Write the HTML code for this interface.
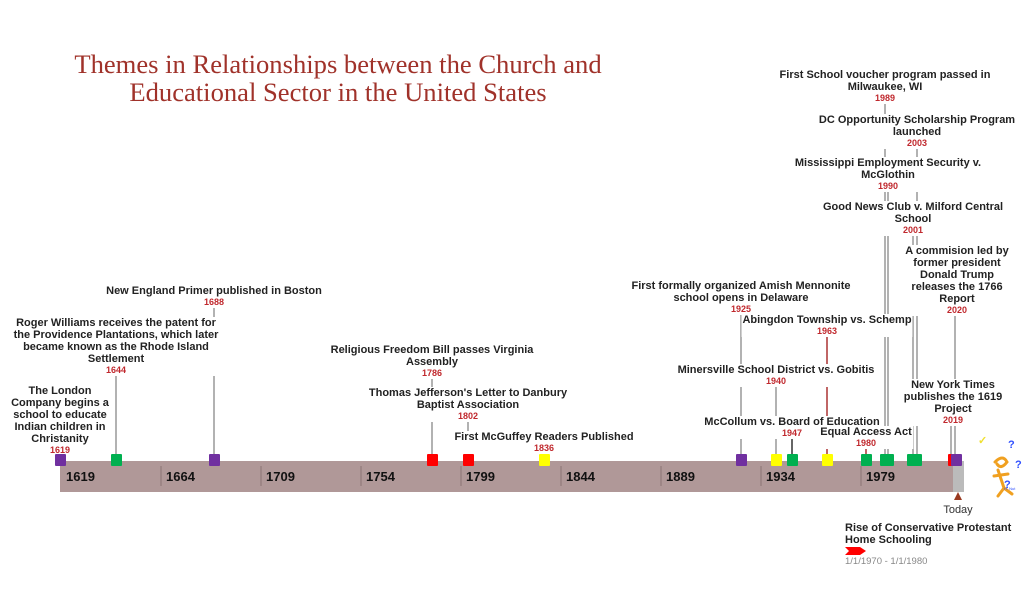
<!DOCTYPE html>
<html><head><meta charset="utf-8"><style>
body{margin:0;width:1024px;height:604px;background:#fff;position:relative;overflow:hidden;font-family:"Liberation Sans",Arial,sans-serif}
svg{position:absolute;left:0;top:0}
.l{position:absolute;transform:translateX(-50%);text-align:center;white-space:nowrap;font-weight:bold;font-size:11px;line-height:12px;color:#222;background:#fff;padding:0 1px;margin-top:3px}
.l b{display:block;color:#c0282d;font-size:9px;line-height:11px}
.t{position:absolute;font-weight:bold;font-size:13px;color:#111;top:469px}
</style></head><body>
<svg width="1024" height="604">
<g stroke="#999" stroke-width="1.5">
<line x1="116" y1="376" x2="116" y2="456"/>
<line x1="214" y1="307" x2="214" y2="456"/>
<line x1="432" y1="378" x2="432" y2="456"/>
<line x1="468" y1="421" x2="468" y2="456"/>
<line x1="741" y1="314" x2="741" y2="456"/>
<line x1="776" y1="386" x2="776" y2="456"/>
<line x1="792" y1="438" x2="792" y2="456" stroke="#333"/>
<line x1="827" y1="336" x2="827" y2="456" stroke="#a33"/>
<line x1="866" y1="447" x2="866" y2="456" stroke="#a33"/>
<line x1="885" y1="104" x2="885" y2="456"/>
<line x1="888" y1="191" x2="888" y2="456"/>
<line x1="913" y1="235" x2="913" y2="456"/>
<line x1="917" y1="148" x2="917" y2="456"/>
<line x1="951" y1="425" x2="951" y2="456"/>
<line x1="955" y1="314" x2="955" y2="456"/>
</g>
<rect x="60" y="461" width="904" height="31" fill="#b09898"/>
<rect x="953" y="461" width="11" height="31" fill="#bbb"/>
<g stroke="#8a7474" stroke-width="1">
<line x1="161" y1="466" x2="161" y2="486"/><line x1="261" y1="466" x2="261" y2="486"/>
<line x1="361" y1="466" x2="361" y2="486"/><line x1="461" y1="466" x2="461" y2="486"/>
<line x1="561" y1="466" x2="561" y2="486"/><line x1="661" y1="466" x2="661" y2="486"/>
<line x1="761" y1="466" x2="761" y2="486"/><line x1="861" y1="466" x2="861" y2="486"/>
</g>
<polygon points="954,500 958,492 962,500" fill="#9a3a20"/>
<polygon points="845,547 860,547 866,551 860,555 845,555 849,551" fill="#ff0000"/>
<g stroke="#f0a020" stroke-width="3" fill="none" stroke-linecap="round">
<path d="M995,462 q8,-8 12,0 q-6,8 -10,2 M998,470 l6,18 M1004,488 l-6,8 M1004,488 l8,6 M994,476 l14,-2"/>
</g>
<text x="1008" y="448" fill="#3050ff" font-size="11" font-weight="bold">?</text>
<text x="1015" y="468" fill="#3050ff" font-size="11" font-weight="bold">?</text>
<text x="1004" y="488" fill="#3050ff" font-size="11" font-weight="bold">?</text>
<text x="978" y="444" fill="#f0e030" font-size="11" font-weight="bold">✓</text>
<text x="1004" y="490" fill="#3050ff" font-size="4">H. Nut</text>
</svg>
<div style="position:absolute;left:338px;top:50px;transform:translateX(-50%);white-space:nowrap;text-align:center;font-family:'Liberation Serif',serif;font-size:26.6px;line-height:28px;color:#a0322a">Themes in Relationships between the Church and<br>Educational Sector in the United States</div>

<div class="t" style="left:66px">1619</div><div class="t" style="left:166px">1664</div><div class="t" style="left:266px">1709</div><div class="t" style="left:366px">1754</div><div class="t" style="left:466px">1799</div><div class="t" style="left:566px">1844</div><div class="t" style="left:666px">1889</div><div class="t" style="left:766px">1934</div><div class="t" style="left:866px">1979</div>

<div class="l" style="left:60px;top:382px">The London<br>Company begins a<br>school to educate<br>Indian children in<br>Christanity<b>1619</b></div>
<div class="l" style="left:116px;top:314px">Roger Williams receives the patent for<br>the Providence Plantations, which later<br>became known as the Rhode Island<br>Settlement<b>1644</b></div>
<div class="l" style="left:214px;top:282px">New England Primer published in Boston<b>1688</b></div>
<div class="l" style="left:432px;top:341px">Religious Freedom Bill passes Virginia<br>Assembly<b>1786</b></div>
<div class="l" style="left:468px;top:384px">Thomas Jefferson's Letter to Danbury<br>Baptist Association<b>1802</b></div>
<div class="l" style="left:544px;top:428px">First McGuffey Readers Published<b>1836</b></div>
<div class="l" style="left:741px;top:277px">First formally organized Amish Mennonite<br>school opens in Delaware<b>1925</b></div>
<div class="l" style="left:776px;top:361px">Minersville School District vs. Gobitis<b>1940</b></div>
<div class="l" style="left:792px;top:413px">McCollum vs. Board of Education<b>1947</b></div>
<div class="l" style="left:827px;top:311px">Abingdon Township vs. Schemp<b>1963</b></div>
<div class="l" style="left:866px;top:423px">Equal Access Act<b>1980</b></div>
<div class="l" style="left:885px;top:66px">First School voucher program passed in<br>Milwaukee, WI<b>1989</b></div>
<div class="l" style="left:917px;top:111px">DC Opportunity Scholarship Program<br>launched<b>2003</b></div>
<div class="l" style="left:888px;top:154px">Mississippi Employment Security v.<br>McGlothin<b>1990</b></div>
<div class="l" style="left:913px;top:198px">Good News Club v. Milford Central<br>School<b>2001</b></div>
<div class="l" style="left:957px;top:242px">A commision led by<br>former president<br>Donald Trump<br>releases the 1766<br>Report<b>2020</b></div>
<div class="l" style="left:953px;top:376px">New York Times<br>publishes the 1619<br>Project<b>2019</b></div>

<svg width="1024" height="604">
<rect x="55" y="454" width="11" height="12" rx="1" fill="#7030a0"/>
<rect x="111" y="454" width="11" height="12" rx="1" fill="#00b050"/>
<rect x="209" y="454" width="11" height="12" rx="1" fill="#7030a0"/>
<rect x="427" y="454" width="11" height="12" rx="1" fill="#ff0000"/>
<rect x="463" y="454" width="11" height="12" rx="1" fill="#ff0000"/>
<rect x="539" y="454" width="11" height="12" rx="1" fill="#ffff00"/>
<rect x="736" y="454" width="11" height="12" rx="1" fill="#7030a0"/>
<rect x="771" y="454" width="11" height="12" rx="1" fill="#ffff00"/>
<rect x="787" y="454" width="11" height="12" rx="1" fill="#00b050"/>
<rect x="822" y="454" width="11" height="12" rx="1" fill="#ffff00"/>
<rect x="861" y="454" width="11" height="12" rx="1" fill="#00b050"/>
<rect x="880" y="454" width="14" height="12" rx="1" fill="#00b050"/>
<rect x="907" y="454" width="15" height="12" rx="1" fill="#00b050"/>
<rect x="948" y="454" width="8" height="12" rx="1" fill="#ff0000"/>
<rect x="951" y="454" width="11" height="12" rx="1" fill="#7030a0"/>
</svg>

<div style="position:absolute;left:958px;top:504px;transform:translateX(-50%);font-size:11px;color:#333">Today</div>
<div style="position:absolute;left:845px;top:522px;font-weight:bold;font-size:11px;line-height:12px;color:#222">Rise of Conservative Protestant<br>Home Schooling</div>
<div style="position:absolute;left:845px;top:556px;font-size:9.5px;color:#888">1/1/1970 - 1/1/1980</div>
</body></html>
